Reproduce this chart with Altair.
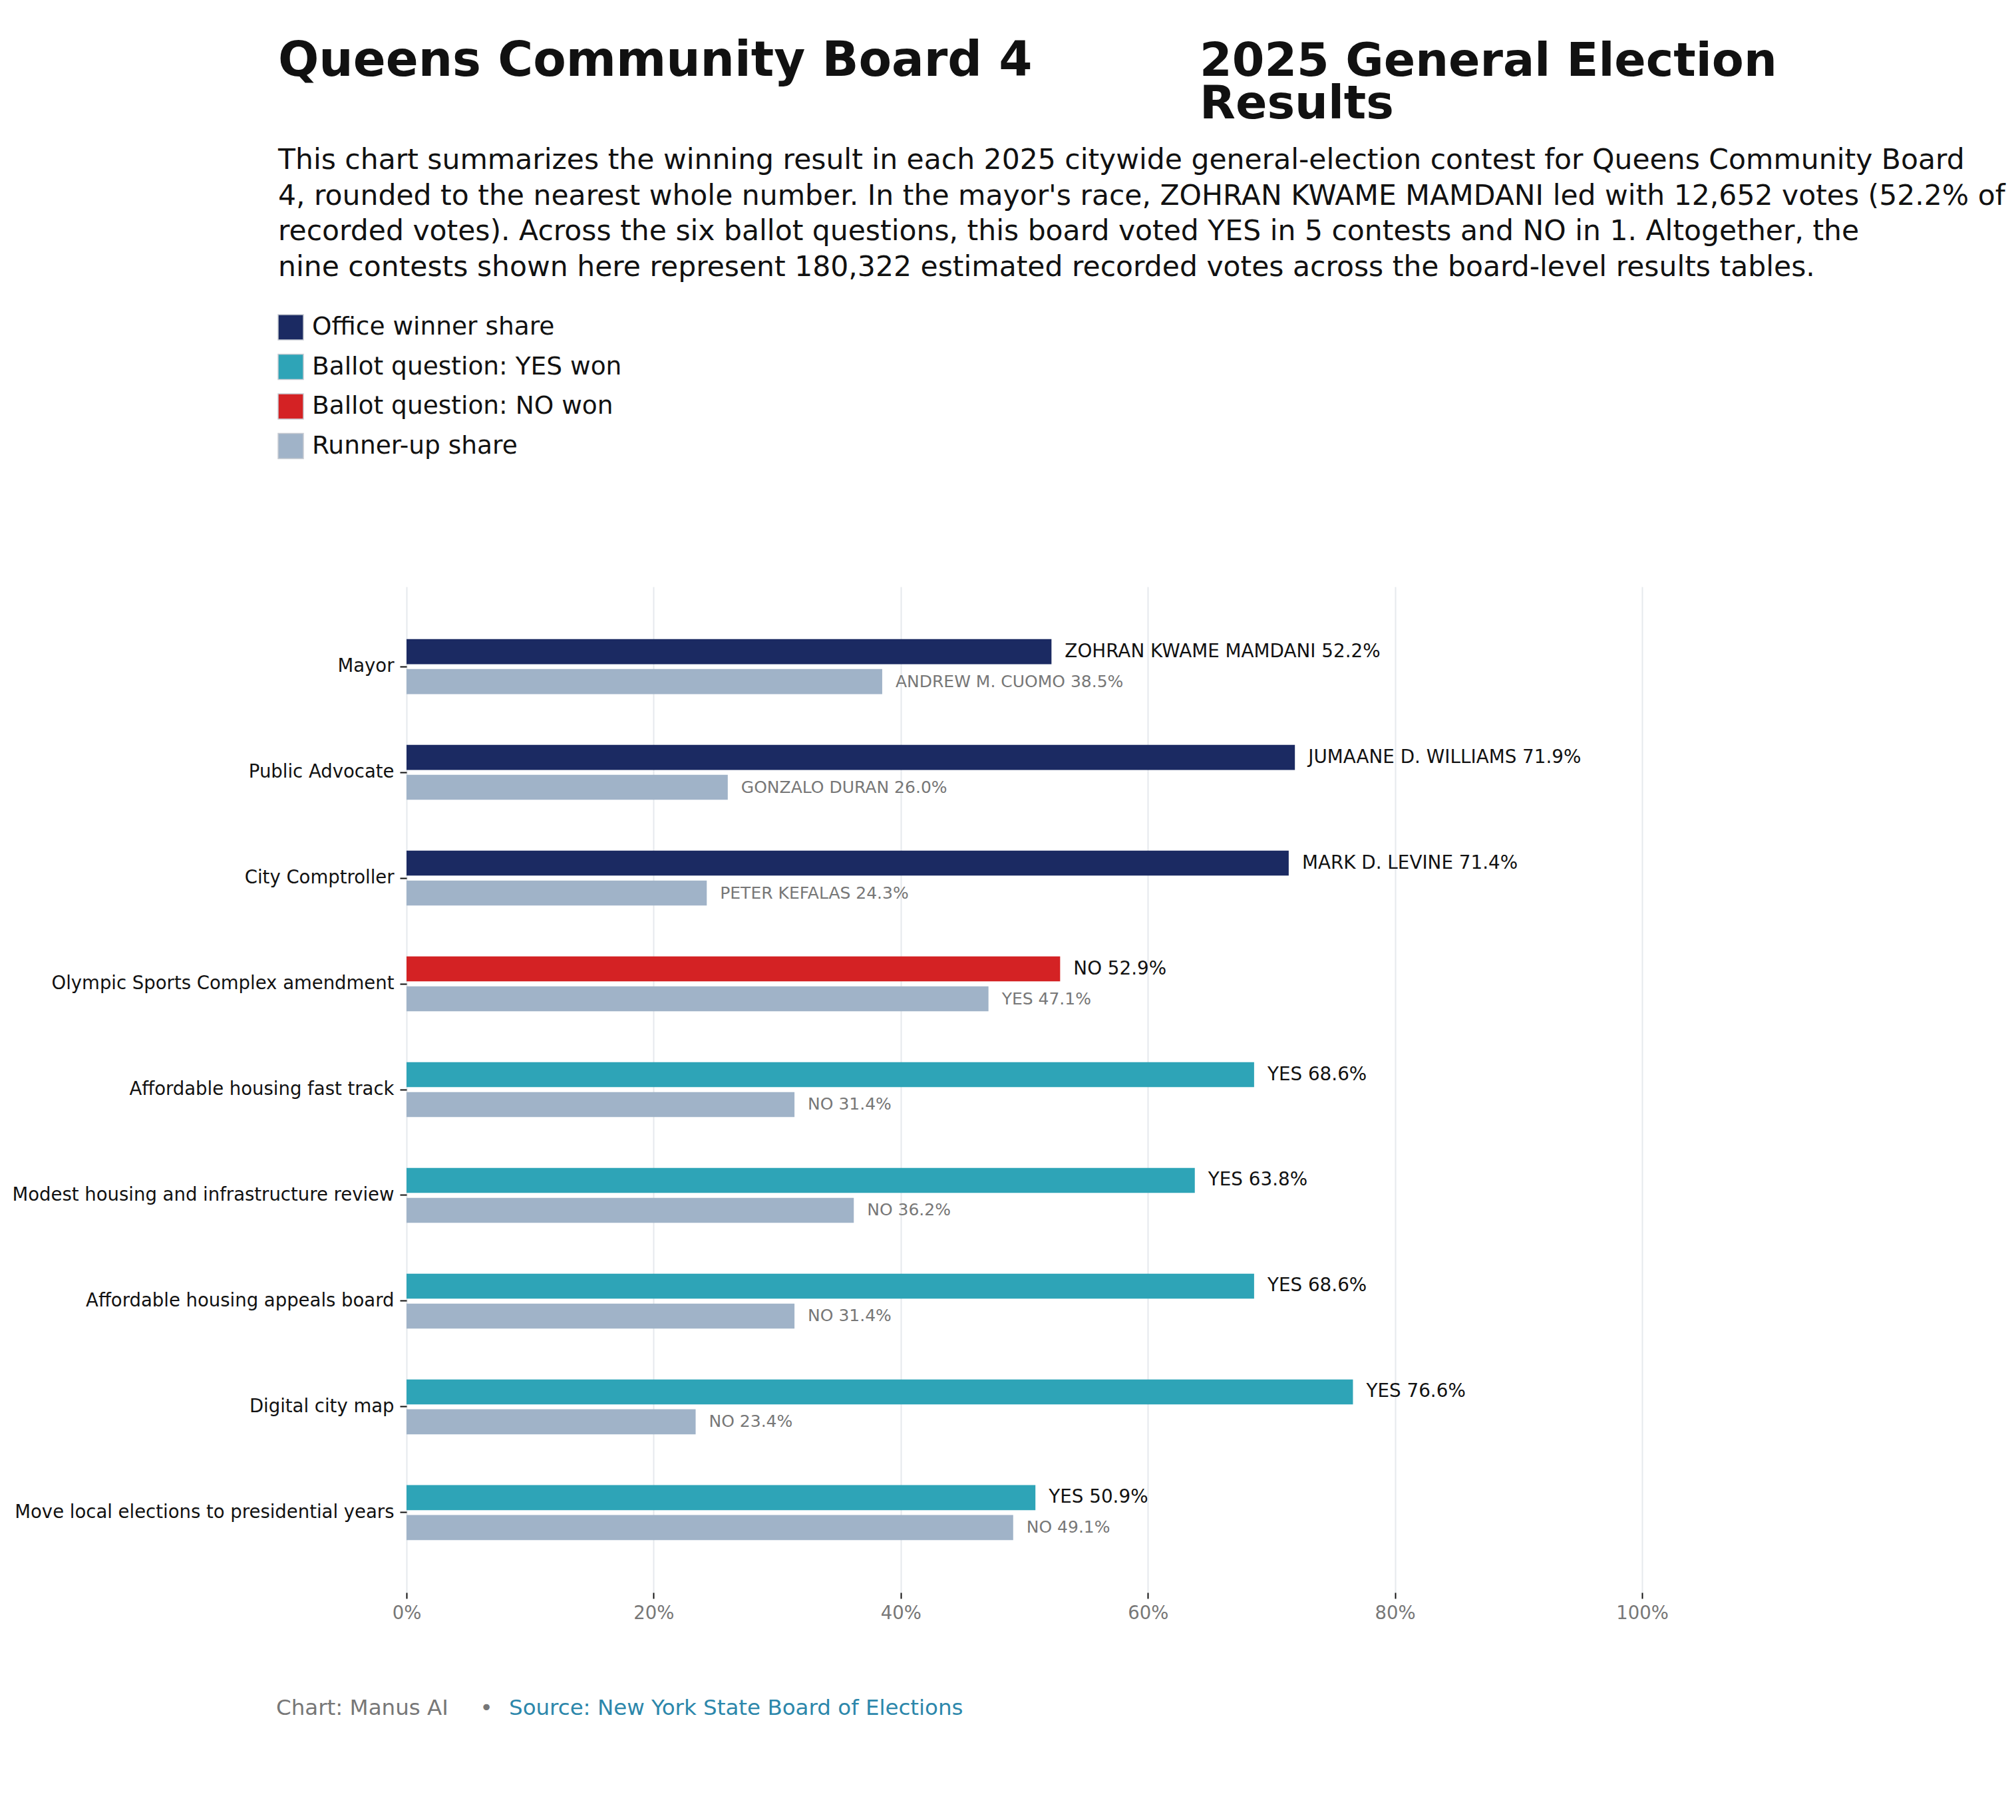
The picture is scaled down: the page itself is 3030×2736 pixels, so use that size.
import altair as alt
import pandas as pd

# ---- data ----
contests = [
    "Mayor",
    "Public Advocate",
    "City Comptroller",
    "Olympic Sports Complex amendment",
    "Affordable housing fast track",
    "Modest housing and infrastructure review",
    "Affordable housing appeals board",
    "Digital city map",
    "Move local elections to presidential years",
]
winner_names = ["ZOHRAN KWAME MAMDANI", "JUMAANE D. WILLIAMS", "MARK D. LEVINE",
                "NO", "YES", "YES", "YES", "YES", "YES"]
winner_pct = [52.2, 71.9, 71.4, 52.9, 68.6, 63.8, 68.6, 76.6, 50.9]
winner_kind = ["Office winner share", "Office winner share", "Office winner share",
               "Ballot question: NO won",
               "Ballot question: YES won", "Ballot question: YES won",
               "Ballot question: YES won", "Ballot question: YES won",
               "Ballot question: YES won"]
runner_names = ["ANDREW M. CUOMO", "GONZALO DURAN", "PETER KEFALAS",
                "YES", "NO", "NO", "NO", "NO", "NO"]
runner_pct = [38.5, 26.0, 24.3, 47.1, 31.4, 36.2, 31.4, 23.4, 49.1]

legend_order = ["Office winner share", "Ballot question: YES won",
                "Ballot question: NO won", "Runner-up share"]
legend_colors = ["#1B2A62", "#2EA4B7", "#D42224", "#A0B3C8"]
x_ticks = [0, 0.2, 0.4, 0.6, 0.8, 1.0]

title_left = "Queens Community Board 4"
title_right = ["2025 General Election", "Results"]
description = [
    "This chart summarizes the winning result in each 2025 citywide general-election contest for Queens Community Board",
    "4, rounded to the nearest whole number. In the mayor's race, ZOHRAN KWAME MAMDANI led with 12,652 votes (52.2% of",
    "recorded votes). Across the six ballot questions, this board voted YES in 5 contests and NO in 1. Altogether, the",
    "nine contests shown here represent 180,322 estimated recorded votes across the board-level results tables.",
]
footer_credit = "Chart: Manus AI"
footer_sep = "\u2022"
footer_source = "Source: New York State Board of Elections"

rows = []
for c, wn, wp, wk, rn, rp in zip(contests, winner_names, winner_pct, winner_kind,
                                 runner_names, runner_pct):
    rows.append(dict(contest=c, role="winner", share=wp / 100.0, kind=wk,
                     label=f"{wn} {wp:.1f}%"))
    rows.append(dict(contest=c, role="runner", share=rp / 100.0, kind="Runner-up share",
                     label=f"{rn} {rp:.1f}%"))
df = pd.DataFrame(rows)

FONT = "DejaVu Sans"
W, H = 1857, 1512

y_enc = alt.Y("contest:N", sort=contests, title=None,
              scale=alt.Scale(paddingInner=0, paddingOuter=0.255),
              axis=alt.Axis(labelFontSize=27.5, labelColor="#111111", labelPadding=9,
                            tickSize=10, tickWidth=2, tickColor="#111111",
                            domain=False, grid=False, labelLimit=1200))
yoff_enc = alt.YOffset("role:N", sort=["winner", "runner"],
                       scale=alt.Scale(paddingInner=0.162, paddingOuter=0.848))
x_enc = alt.X("share:Q", title=None,
              scale=alt.Scale(domain=[0, 1], nice=False, zero=True),
              axis=alt.Axis(values=x_ticks, format=".0%", labelFontSize=27.5,
                            labelColor="#777777", labelPadding=8, tickSize=9,
                            tickWidth=2, tickColor="#111111", domain=False,
                            labelFlush=False,
                            grid=True, gridColor="#E6E9ED", gridWidth=2))

base = alt.Chart(df)

bars = base.mark_bar().encode(
    x=x_enc,
    y=y_enc,
    yOffset=yoff_enc,
    color=alt.Color("kind:N",
                    scale=alt.Scale(domain=legend_order, range=legend_colors),
                    legend=alt.Legend(title=None, orient="none", legendX=-194,
                                      legendY=-410, direction="vertical",
                                      symbolType="square", symbolSize=1444,
                                      symbolStrokeColor="#C8CCD2",
                                      symbolStrokeWidth=1.5, symbolOpacity=1,
                                      labelFontSize=37.5, labelColor="#111111",
                                      labelOffset=12, rowPadding=15.5,
                                      labelLimit=2000, padding=0)),
)

win_text = base.transform_filter(alt.datum.role == "winner").mark_text(
    align="left", baseline="middle", dx=20, fontSize=27.8, color="#111111"
).encode(x="share:Q", y=alt.Y("contest:N", sort=contests),
         yOffset=yoff_enc, text="label:N")

run_text = base.transform_filter(alt.datum.role == "runner").mark_text(
    align="left", baseline="middle", dx=20, fontSize=25, color="#777777"
).encode(x="share:Q", y=alt.Y("contest:N", sort=contests),
         yOffset=yoff_enc, text="label:N")

one = alt.Data(values=[{}])

t1 = alt.Chart(one).mark_text(text=title_left, align="left", baseline="alphabetic",
                              fontSize=72.2, fontWeight="bold", color="#111111").encode(
    x=alt.value(-193), y=alt.value(-768))
t2 = alt.Chart(one).mark_text(text=title_right, align="left", baseline="alphabetic",
                              fontSize=70, fontWeight="bold", color="#111111",
                              lineHeight=64).encode(
    x=alt.value(1192), y=alt.value(-768))
desc = alt.Chart(one).mark_text(text=description, align="left", baseline="alphabetic",
                                fontSize=42.5, color="#111111", lineHeight=53.6).encode(
    x=alt.value(-193), y=alt.value(-628))
f1 = alt.Chart(one).mark_text(text=footer_credit, align="left", baseline="alphabetic",
                              fontSize=32.5, color="#777777").encode(
    x=alt.value(-196), y=alt.value(1696))
f2 = alt.Chart(one).mark_text(text=footer_sep, align="center", baseline="alphabetic",
                              fontSize=32.5, color="#777777").encode(
    x=alt.value(120), y=alt.value(1696))
f3 = alt.Chart(one).mark_text(text=footer_source, align="left", baseline="alphabetic",
                              fontSize=32.5, color="#2C87AB").encode(
    x=alt.value(154), y=alt.value(1696))

chart = alt.layer(bars, win_text, run_text, t1, t2, desc, f1, f2, f3).properties(
    width=W, height=H,
    autosize=alt.AutoSizeParams(type="none"),
    padding={"left": 603, "top": 874, "right": 554, "bottom": 300},
).configure(font=FONT, background="white").configure_view(stroke=None)

chart.save("out.html", embed_options={"renderer": "svg", "actions": False})
